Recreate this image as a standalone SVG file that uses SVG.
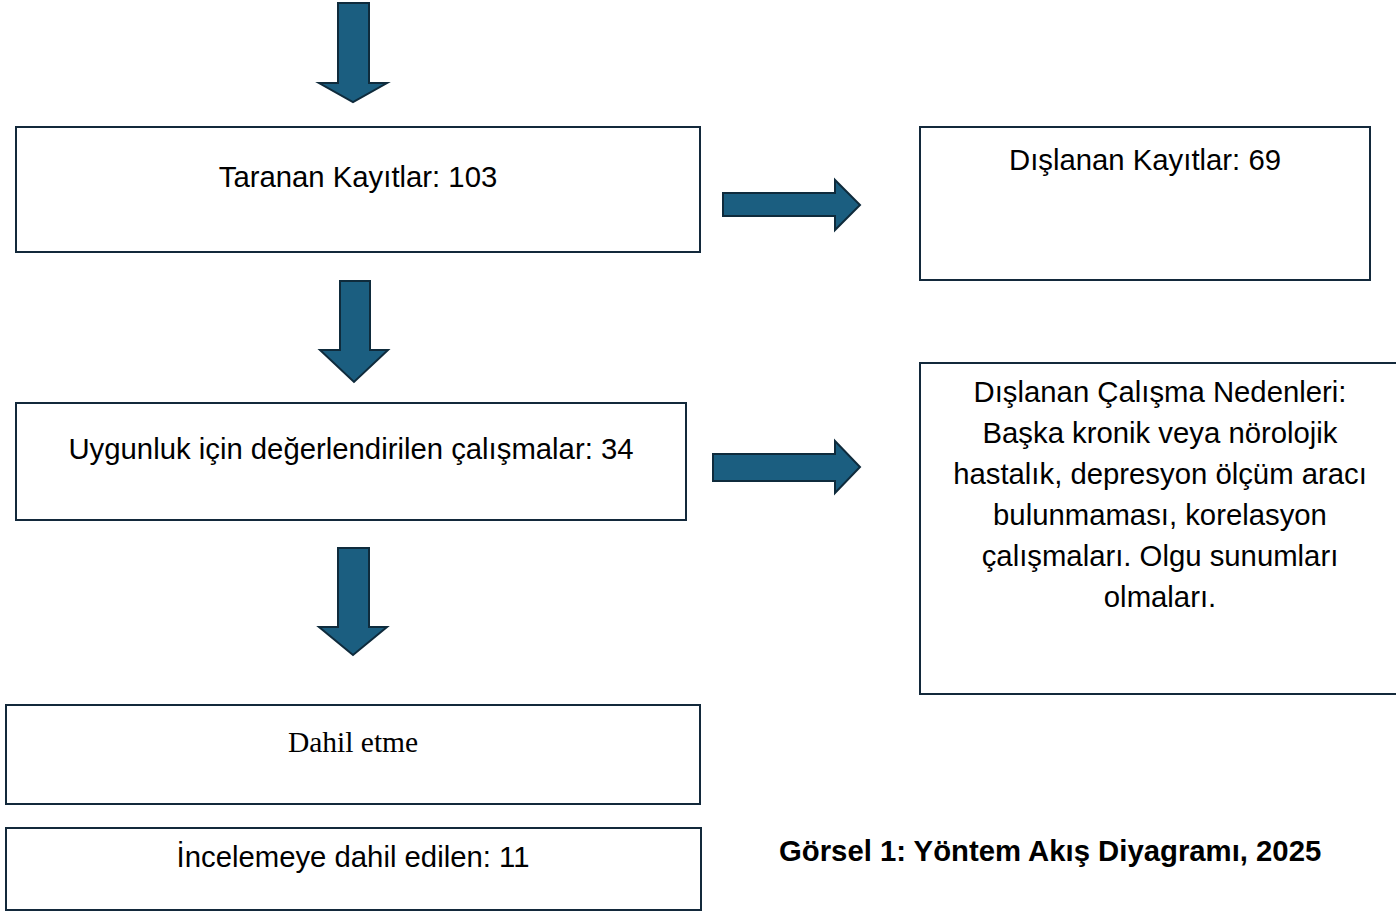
<svg xmlns="http://www.w3.org/2000/svg" width="1396" height="914" viewBox="0 0 1396 914">
<style>
.box{fill:#fff;stroke:#13293b;stroke-width:2}
.arr{fill:#1b5e80;stroke:#0f2b3c;stroke-width:2;stroke-linejoin:miter}
.t{font-family:"Liberation Sans",Arial,sans-serif;font-size:29.3px;fill:#000;text-anchor:middle}
.s{font-family:"Liberation Serif","Times New Roman",serif;font-size:29.5px;fill:#000;text-anchor:middle}
.cap{font-family:"Liberation Sans",Arial,sans-serif;font-size:29.3px;font-weight:bold;fill:#000}
</style>
<rect width="1396" height="914" fill="#fff"/>
<g id="connectors">
<polygon class="arr" points="338,3 369,3 369,83 387,83 353,102 319,83 338,83"/>
<polygon class="arr" points="340,281 370,281 370,350 388,350 354,382 320,350 340,350"/>
<polygon class="arr" points="338,548 369,548 369,627 387,627 353,655 319,627 338,627"/>
<polygon class="arr" points="723,193 835,193 835,180 860,205 835,230 835,216 723,216"/>
<polygon class="arr" points="713,454 835,454 835,441 860,467 835,493 835,481 713,481"/>
</g>
<g id="taranan">
<rect class="box" x="16" y="127" width="684" height="125"/>
<text class="t" x="358" y="187">Taranan Kayıtlar: 103</text>
</g>
<g id="dislanan-kayitlar">
<rect class="box" x="920" y="127" width="450" height="153"/>
<text class="t" x="1145" y="170">Dışlanan Kayıtlar: 69</text>
</g>
<g id="uygunluk">
<rect class="box" x="16" y="403" width="670" height="117"/>
<text class="t" x="351" y="459">Uygunluk için değerlendirilen çalışmalar: 34</text>
</g>
<g id="dislanan-nedenler">
<rect class="box" x="920" y="363" width="480" height="331"/>
<text class="t" x="1160" y="402">Dışlanan Çalışma Nedenleri:</text>
<text class="t" x="1160" y="443">Başka kronik veya nörolojik</text>
<text class="t" x="1160" y="484">hastalık, depresyon ölçüm aracı</text>
<text class="t" x="1160" y="525">bulunmaması, korelasyon</text>
<text class="t" x="1160" y="566">çalışmaları. Olgu sunumları</text>
<text class="t" x="1160" y="607">olmaları.</text>
</g>
<g id="dahil-etme">
<rect class="box" x="6" y="705" width="694" height="99"/>
<text class="s" x="353" y="752">Dahil etme</text>
</g>
<g id="incelemeye">
<rect class="box" x="6" y="828" width="695" height="82"/>
<text class="t" x="353" y="867">İncelemeye dahil edilen: 11</text>
</g>
<g id="caption">
<text class="cap" x="779" y="861">Görsel 1: Yöntem Akış Diyagramı, 2025</text>
</g>
</svg>
